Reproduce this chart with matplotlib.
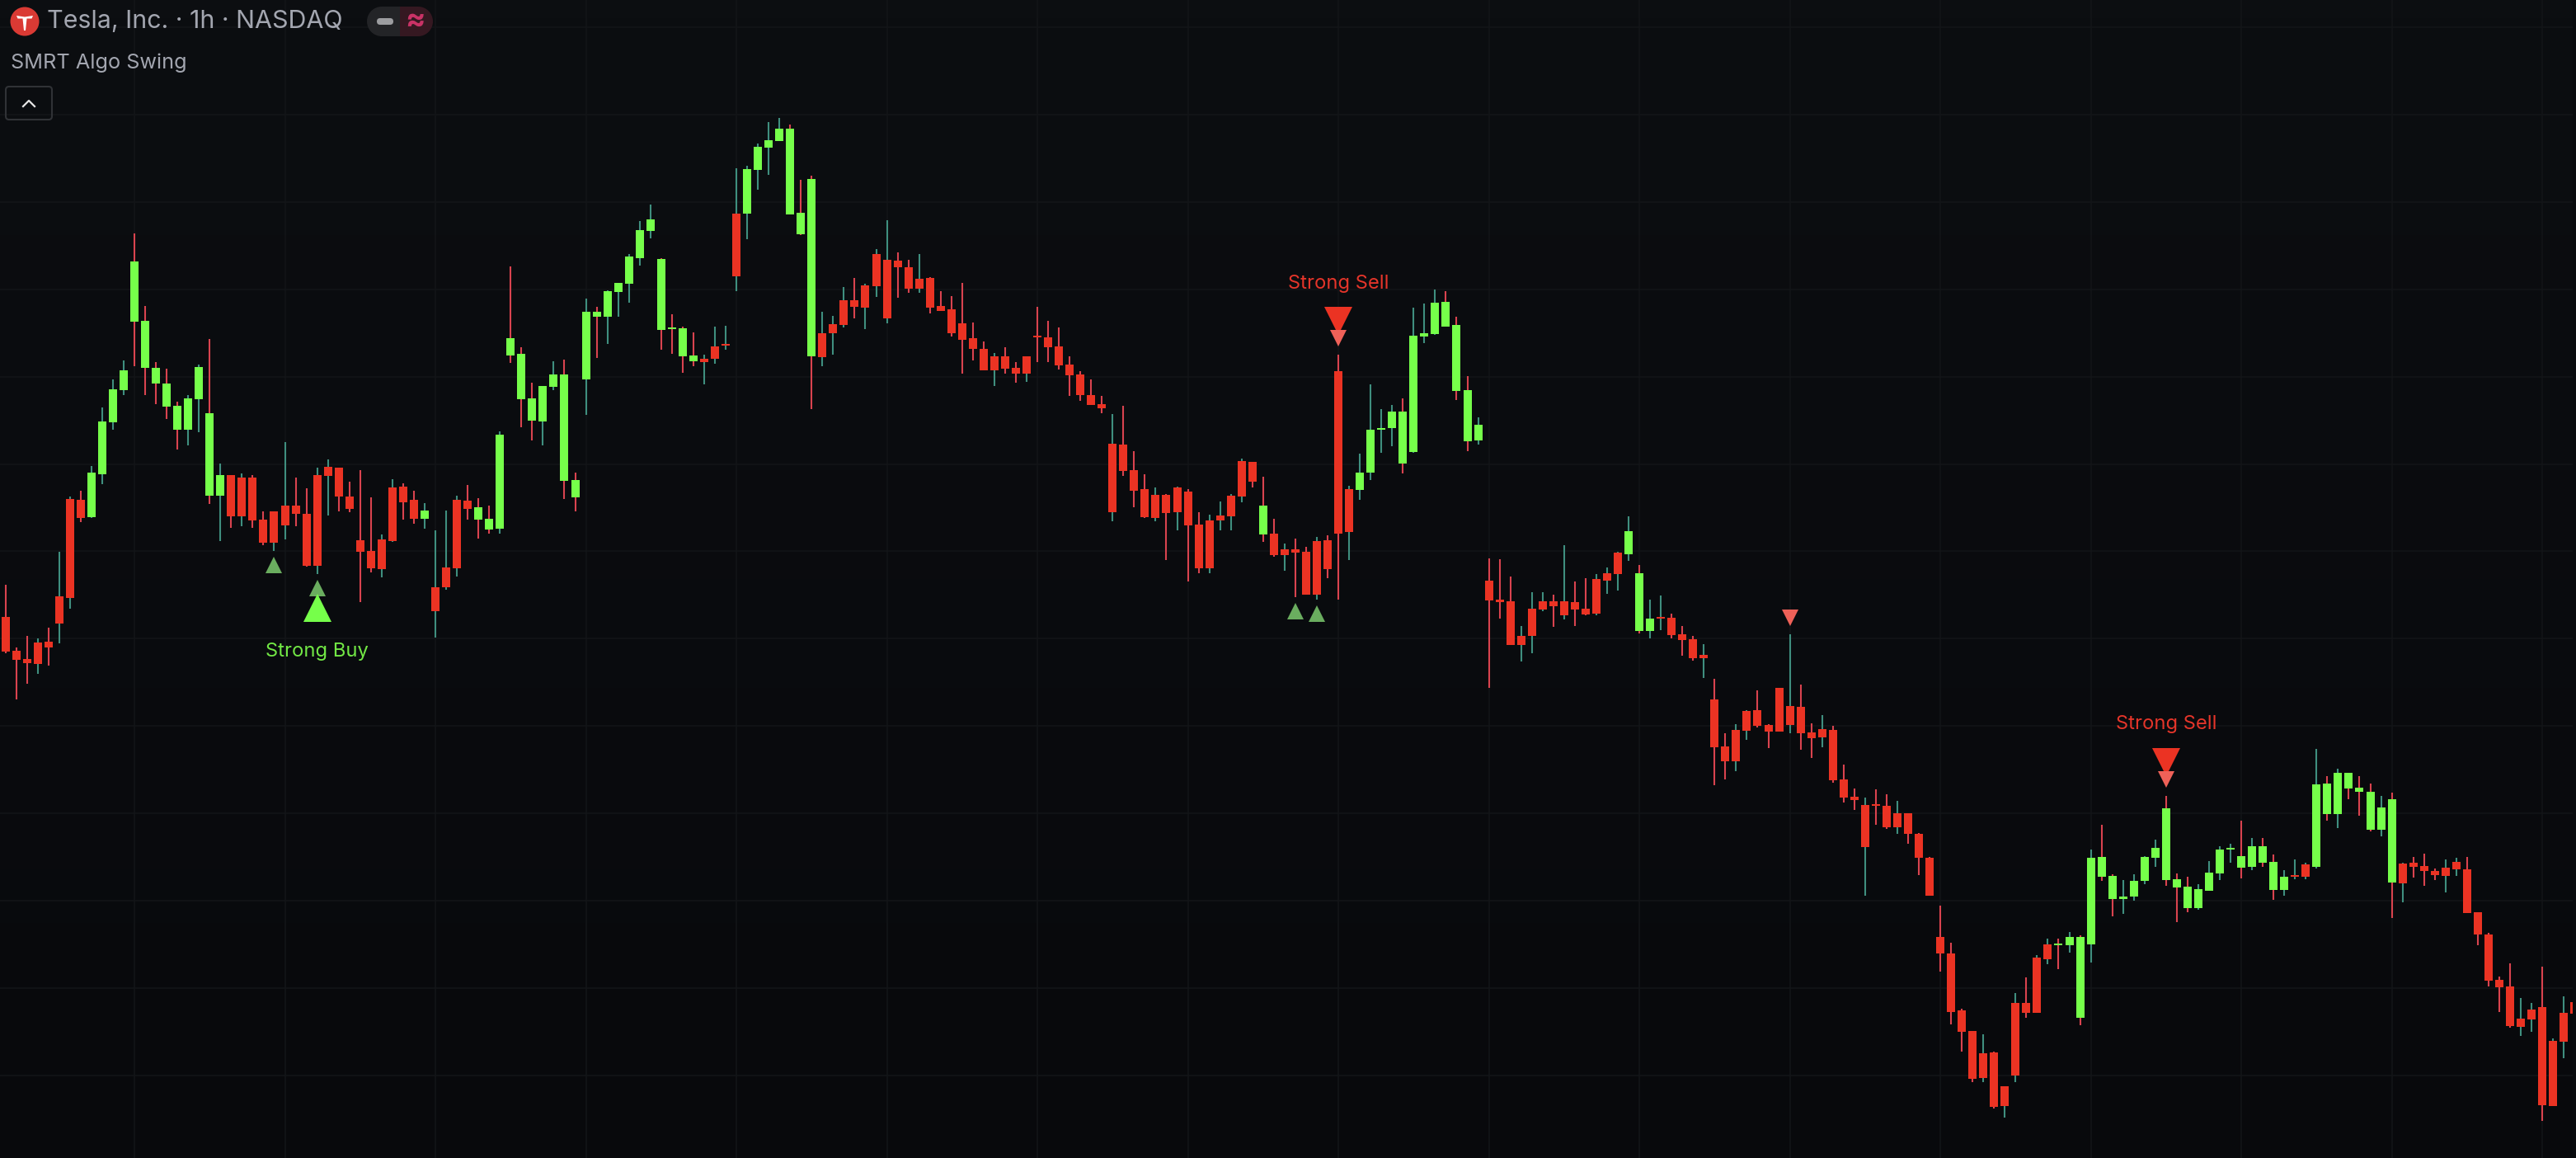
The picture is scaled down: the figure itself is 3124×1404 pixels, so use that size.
#!/bin/env python
import numpy as np
import matplotlib
matplotlib.use("Agg")
import matplotlib.pyplot as plt
from matplotlib.patches import Circle, FancyBboxPatch, Polygon, Rectangle

highs = [
 329.1,321.5,322.9,322.6,323.9,333.1,339.8,340.5,343.5,350.6,
 354.0,356.3,371.7,362.9,356.1,355.3,351.3,352.1,355.8,358.9,
 343.8,342.4,342.6,342.4,338.0,338.0,346.4,342.1,340.8,343.3,
 344.3,343.3,341.6,343.0,339.7,335.2,341.9,341.4,340.5,339.0,
 335.7,338.1,339.9,341.2,339.6,338.7,347.7,367.7,357.9,353.6,
 353.2,356.2,356.4,342.7,363.8,362.8,364.8,365.7,369.2,373.2,
 375.2,368.7,361.9,360.4,359.7,357.0,360.4,360.5,379.6,379.9,
 382.6,385.2,385.7,384.9,378.2,378.7,362.2,361.7,365.2,366.3,
 365.6,369.8,373.3,369.4,368.5,369.2,366.4,364.7,364.1,365.7,
 360.9,358.6,357.2,357.9,356.1,356.8,362.8,361.1,360.3,356.8,
 355.0,354.0,352.0,349.8,350.8,345.3,342.5,340.9,340.1,341.0,
 340.7,337.9,337.6,339.2,340.1,344.4,344.0,342.2,337.1,334.1,
 334.7,333.7,334.9,335.1,357.0,341.1,345.0,353.4,350.4,350.9,
 351.7,362.7,363.2,364.9,364.7,361.6,354.4,349.4,332.3,332.2,
 330.1,324.1,328.2,328.2,327.9,333.9,329.5,329.9,330.4,331.2,
 333.1,337.4,331.5,327.3,327.8,325.6,324.1,322.9,321.9,317.7,
 311.1,312.2,313.9,316.3,312.2,316.6,323.1,317.0,312.3,313.3,
 312.0,307.3,304.4,303.3,304.3,303.7,302.9,301.4,299.0,296.1,
 290.2,285.7,277.7,275.0,274.6,272.5,268.3,279.6,281.5,284.2,
 286.2,286.2,287.0,286.6,297.0,300.0,294.0,293.3,294.0,296.2,
 298.2,303.5,294.1,293.7,292.8,295.6,297.4,297.7,300.5,298.4,
 298.4,296.4,294.5,295.8,295.4,309.2,305.9,306.8,306.3,305.9,
 305.0,303.5,303.9,295.4,296.1,296.5,294.7,295.8,296.0,296.1,
 289.4,286.9,281.6,283.2,279.0,278.4,282.8,274.1,279.2,278.5]

lows = [
 320.8,315.2,317.1,318.3,319.3,322.0,326.2,336.7,337.2,341.3,
 347.9,352.1,355.6,352.1,351.0,349.2,345.5,346.0,347.6,338.9,
 334.4,336.0,336.2,336.0,333.9,333.2,334.6,336.2,331.3,330.4,
 337.5,338.0,337.9,327.0,330.6,330.0,334.3,337.0,336.5,335.9,
 322.7,328.5,330.1,337.0,334.7,335.3,335.3,356.0,348.2,346.6,
 346.0,352.7,339.5,338.0,349.7,356.6,358.3,361.6,363.3,367.8,
 371.1,357.6,357.1,354.8,355.6,353.4,355.9,357.6,364.7,371.0,
 377.0,378.8,382.9,374.0,371.5,350.4,355.6,357.0,360.3,361.4,
 360.1,364.0,360.8,363.9,364.5,364.5,362.0,362.3,359.2,354.7,
 356.3,355.1,353.2,354.7,353.6,353.7,356.1,356.1,355.2,352.0,
 351.4,350.9,349.9,336.8,342.3,338.5,337.2,336.8,332.1,335.7,
 329.5,330.5,330.5,335.7,335.7,339.1,340.9,334.3,332.5,330.8,
 327.6,327.9,327.3,329.9,327.3,332.1,339.4,341.8,345.1,345.9,
 342.6,345.1,358.4,359.4,360.4,351.5,345.3,346.1,316.6,325.0,
 321.8,319.8,320.8,325.9,324.0,324.9,324.1,325.4,325.4,328.0,
 328.4,332.0,323.2,322.6,323.6,322.6,320.5,319.9,317.8,304.8,
 305.5,306.5,310.3,311.8,309.3,311.3,311.1,309.1,308.1,309.4,
 305.1,302.7,301.8,291.4,300.0,299.5,298.9,297.7,293.9,291.4,
 282.2,275.8,272.5,268.8,268.8,265.6,264.5,268.8,276.6,277.2,
 283.1,282.5,284.5,275.7,283.3,293.2,288.9,289.2,290.8,292.8,
 294.9,292.6,288.2,289.4,289.7,292.0,293.3,295.4,293.5,294.5,
 294.9,290.9,291.4,293.4,293.4,294.7,300.5,299.6,303.1,301.1,
 299.2,298.6,288.7,290.6,293.6,292.6,293.3,291.8,293.8,289.3,
 285.4,280.4,277.3,275.4,274.4,274.9,264.1,265.9,271.7,277.1]

body_tops = [
 325.2,321.1,320.1,322.1,322.2,327.7,339.5,339.4,342.7,348.9,
 352.8,355.1,368.3,361.1,355.4,353.5,350.8,351.7,355.5,349.9,
 342.4,342.4,342.1,342.1,337.0,338.0,338.7,338.7,337.7,342.4,
 343.4,343.3,339.8,334.5,333.2,334.6,340.9,341.0,339.4,338.1,
 328.8,331.2,339.4,339.3,338.5,337.1,347.3,359.0,357.1,351.7,
 353.2,354.6,354.6,341.8,362.2,362.2,364.7,365.7,368.9,372.1,
 373.4,368.6,360.3,360.2,356.9,356.5,358.0,358.3,374.1,379.5,
 382.2,383.0,384.4,384.4,374.2,378.3,359.6,360.7,363.6,363.6,
 365.4,369.2,368.5,368.4,367.6,366.2,366.3,362.9,362.5,360.8,
 359.0,357.7,356.8,356.8,355.4,356.8,359.3,359.1,358.0,355.8,
 354.6,352.1,351.0,346.2,346.1,343.0,340.7,340.0,340.0,340.9,
 340.4,336.4,336.9,337.5,339.9,344.1,344.0,338.7,335.3,333.4,
 333.4,333.1,334.4,334.5,355.0,340.7,342.7,347.9,348.1,350.1,
 350.1,359.3,359.6,363.3,363.4,360.6,352.7,348.5,329.6,327.3,
 327.1,322.9,326.2,327.1,327.1,327.1,327.0,326.2,329.8,330.5,
 333.0,335.6,330.5,325.0,325.2,325.1,323.1,322.5,320.6,315.2,
 309.5,311.5,313.8,313.9,312.1,316.6,314.4,314.3,311.2,311.6,
 311.5,305.5,303.4,302.4,302.5,302.3,301.4,301.4,298.9,296.0,
 286.4,284.4,277.5,275.0,272.3,272.4,268.3,278.4,278.4,283.9,
 285.5,285.6,286.4,286.4,296.0,296.1,293.8,291.3,293.2,296.1,
 297.2,302.0,293.4,292.5,292.2,294.2,297.0,297.2,296.2,297.4,
 297.4,295.5,293.7,293.9,295.2,304.9,305.0,306.3,306.3,304.5,
 304.0,302.1,303.1,295.3,295.4,295.0,294.4,294.8,295.5,294.6,
 289.4,286.7,281.2,280.4,276.5,277.6,277.9,273.8,277.2,278.5]

body_bots = [
 321.0,320.0,319.6,319.5,321.5,324.4,327.5,337.2,337.3,342.5,
 348.8,352.7,361.0,355.4,353.5,350.7,347.9,347.9,351.6,339.9,
 339.9,337.4,337.4,336.9,334.2,334.2,336.3,337.7,331.4,331.4,
 342.3,339.8,338.3,333.1,331.1,331.0,334.4,339.1,337.1,337.1,
 325.9,328.8,331.1,338.3,337.0,335.8,335.9,356.9,351.6,349.0,
 348.9,353.1,341.7,339.7,354.0,361.6,361.6,364.6,365.6,368.7,
 372.0,360.0,360.1,356.8,356.2,356.1,356.5,358.1,366.5,374.1,
 379.4,382.1,382.9,374.0,371.6,356.8,356.7,359.6,360.6,362.8,
 362.7,365.3,361.4,367.6,365.0,365.0,362.7,362.3,359.6,358.8,
 357.7,355.1,355.1,355.3,354.7,354.7,359.1,357.9,355.7,354.5,
 352.1,350.9,350.5,337.9,342.9,340.5,337.3,337.2,337.8,337.9,
 336.3,331.1,331.1,336.9,337.4,339.8,341.6,335.2,332.7,332.7,
 333.0,327.9,327.9,331.0,335.3,335.5,340.6,342.7,347.9,348.1,
 343.8,345.2,359.2,359.5,360.4,352.6,346.5,346.6,327.2,327.0,
 321.8,321.8,322.9,326.1,326.5,325.4,326.1,325.5,325.6,329.6,
 330.4,332.8,323.5,323.5,325.0,323.0,322.4,320.2,320.2,309.4,
 307.7,307.7,311.4,312.0,311.3,311.3,312.1,311.1,310.5,310.6,
 305.4,303.3,303.0,297.3,302.3,299.7,299.7,298.9,296.0,291.4,
 284.4,277.3,274.9,269.2,269.3,265.8,265.9,269.6,277.2,277.2,
 283.7,285.4,285.4,276.6,285.5,293.7,291.0,291.0,291.3,293.2,
 296.0,293.3,292.4,289.9,289.9,292.0,294.1,297.0,294.8,294.9,
 295.4,292.1,292.1,293.7,293.7,294.9,301.3,301.3,304.4,304.0,
 299.4,299.4,293.0,292.9,294.9,294.4,293.9,293.8,294.6,289.3,
 286.7,281.1,280.3,275.6,275.5,276.4,266.0,265.9,273.7,277.1]

# R = red, G = green body
body_kind = ("RRRRRRRRGG" "GGGGGGGGGG" "GRRRRRRRRR" "RRRRRRRRRG"
             "RRRRGGGGGG" "GGGGGGGGGG" "GGGGGRRRRG" "GGGGGGRRRR"
             "RRRRRRRRRR" "RRRRRRRRRR" "RRRRRRRRRR" "RRRRRRRGRR"
             "RRRRRRGGGG" "GGGGGGGGRR" "RRRRRRRRRR" "RGGGRRRRRR"
             "RRRRRRRRRR" "RRRRRRRRRR" "RRRRRRRRRR" "RGGGGGGGGG"
             "GGGGGGGGGG" "GGGRRGGGGG" "GGGRRRRRRR" "RRRRRRRRRR")
# R = red, T = teal wick
wick_kind = ("RRRTRTTRTT" "TTRRRRRTTR" "TRTRRTTRRT" "TRRRRTTRRT"
             "TTTRRRTRRR" "TTRRTRTTTT" "TRRRRTTTTT" "TTTRRRTTTR"
             "TTTRRTRRRR" "RRTRRTRRRR" "RRRTRRRTRT" "RRTTTTRRRT"
             "RRTRRTTTTT" "RTTTRRRTRR" "RTTTRTRRTT" "TTRTTRRRTR"
             "RTTRRRTRRT" "RRRTRRTRRR" "RRRRTRTTRT" "TRTRTRRTTT"
             "TRRRTTTTRT" "RRTTTTRTRR" "RTRTRRRTTR" "RRRRTTRTTR")

# signals: bar, price at marker centre
small_buy_bars = [25, 29, 120, 122]
small_buy_prices = [331.5, 328.7, 325.9, 325.6]
strong_buy_bars = [29]
strong_buy_prices = [326.3]
small_sell_bars = [124, 166, 201]
small_sell_prices = [359.0, 325.1, 305.5]
strong_sell_bars = [124, 201]
strong_sell_prices = [361.1, 307.6]
label_texts = ["Strong Buy", "Strong Sell", "Strong Sell"]
label_bars = [29, 124, 201]
label_prices = [321.0, 365.6, 312.2]

W, H = 3124, 1404
GREEN = "#76FF4A"
RED = "#EB3323"
WICK_RED = "#D9434F"
WICK_TEAL = "#3F8F7F"
GRID = "#131518"
X_MIN, X_MAX = -0.506, 238.83
plt.rcParams["font.family"] = ["Inter", "DejaVu Sans"]

fig = plt.figure(figsize=(W / 100, H / 100), dpi=100, facecolor="#090B0E")
# the pane stops 4 px short of the right edge
ax = fig.add_axes([0, 0, 3120 / W, 1])
ax.set_xlim(X_MIN, X_MAX)
ax.set_ylim(259.6, 400)

# background goes a little darker to the bottom
grad = np.linspace(0, 1, 64).reshape(-1, 1)
top_col = np.array([12, 14, 17]) / 255
bot_col = np.array([8, 9, 12]) / 255
ax.imshow(top_col + grad[:, :, None] * (bot_col - top_col), aspect="auto",
          extent=(X_MIN, X_MAX, 259.6, 400), zorder=0)

ax.set_xticks(np.arange(12, 240, 14))
ax.set_yticks(400 - 3.33 - 10.585 * np.arange(13))
ax.grid(True, color=GRID, lw=1.1, zorder=1)
ax.tick_params(length=0, labelbottom=False, labelleft=False)
for s in ax.spines.values():
    s.set_visible(False)
ax.set_axisbelow(True)

bars = np.arange(len(highs))
wick_cols = [WICK_RED if k == "R" else WICK_TEAL for k in wick_kind]
body_cols = [RED if k == "R" else GREEN for k in body_kind]
ax.vlines(bars, lows, highs, colors=wick_cols, lw=1.5, zorder=2)
tops = np.array(body_tops)
bots = np.array(body_bots)
ax.bar(bars, tops - bots, bottom=bots, width=10 / 13.036, color=body_cols, lw=0, zorder=3)

ax.plot(small_buy_bars, small_buy_prices, ls="", marker="^", ms=14, mew=0, color="#6AAD5F", zorder=4)
ax.plot(strong_buy_bars, strong_buy_prices, ls="", marker="^", ms=24, mew=0, color=GREEN, zorder=5)
ax.plot(strong_sell_bars, strong_sell_prices, ls="", marker="v", ms=24, mew=0, color=RED, zorder=4)
ax.plot(small_sell_bars, small_sell_prices, ls="", marker="v", ms=14, mew=0, color="#EF6158", zorder=5)

for txt, b, p in zip(label_texts, label_bars, label_prices):
    c = "#72E845" if "Buy" in txt else "#E5352A"
    ax.text(b, p, txt, color=c, fontsize=17.1, ha="center", va="center", zorder=6)

# header overlay, in image pixels
hud = fig.add_axes([0, 0, 1, 1])
hud.set_xlim(0, W)
hud.set_ylim(H, 0)
hud.axis("off")
hud.patch.set_alpha(0)

hud.add_patch(Circle((30, 26), 17.5, color="#DA3A34", lw=0))
hud.add_patch(Polygon([(20, 19), (30, 20.5), (40, 19), (38.5, 22.5), (32.5, 22.5), (31, 37),
                       (29, 37), (27.5, 22.5), (21.5, 22.5)],
                      closed=True, color="white", lw=0))
hud.text(57, 26, "Tesla, Inc. · 1h · NASDAQ", color="#A3A6B0", fontsize=21.9, va="center", ha="left")
hud.text(13, 76, "SMRT Algo Swing", color="#A3A6B0", fontsize=18.2, va="center", ha="left")

hud.add_patch(Circle((463, 26), 18, color="#232427", lw=0))
hud.add_patch(Rectangle((463, 8), 22, 36, color="#232427", lw=0))
hud.add_patch(Rectangle((485, 8), 22, 36, color="#351821", lw=0))
hud.add_patch(Circle((507, 26), 18, color="#351821", lw=0))
hud.add_patch(FancyBboxPatch((457, 22), 20, 8, boxstyle="round,pad=0,rounding_size=4", color="#9C9DA0", lw=0))
hud.text(503, 25, "≈", color="#C93266", fontsize=26, va="center", ha="center", fontweight="bold")

hud.add_patch(FancyBboxPatch((7, 105), 56, 40, boxstyle="round,pad=0,rounding_size=4",
                             fc="none", ec="#303236", lw=1.5))
hud.plot([28, 35, 42], [129, 122, 129], color="#E6E6E6", lw=1.6)

fig.savefig("out.png", dpi=100, facecolor=fig.get_facecolor())
